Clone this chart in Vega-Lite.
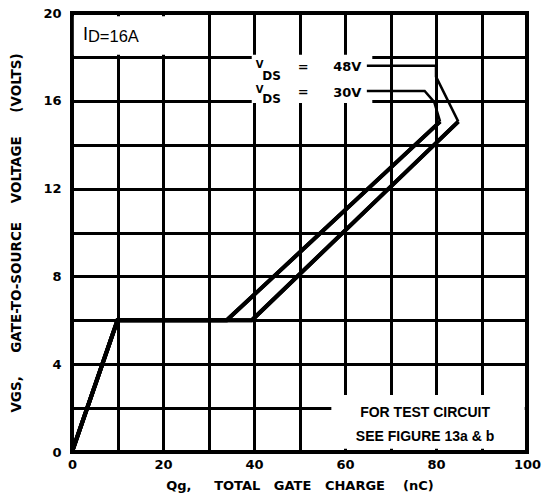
{
  "$schema": "https://vega.github.io/schema/vega-lite/v6.json",
  "width": 455,
  "height": 439,
  "autosize": {"type": "none"},
  "padding": {"left": 72, "top": 13, "right": 30, "bottom": 52},
  "background": "white",
  "config": {
    "view": {"stroke": "black", "strokeWidth": 4},
    "axis": {"zindex": 0}
  },
  "datasets": {
    "curves": [
      {"series": "30V", "ord": 1, "q": 0, "v": 0},
      {"series": "30V", "ord": 2, "q": 10, "v": 6},
      {"series": "30V", "ord": 3, "q": 34, "v": 6},
      {"series": "30V", "ord": 4, "q": 80.9, "v": 15.05},
      {"series": "48V", "ord": 1, "q": 0, "v": 0},
      {"series": "48V", "ord": 2, "q": 10, "v": 6},
      {"series": "48V", "ord": 3, "q": 39.5, "v": 6},
      {"series": "48V", "ord": 4, "q": 84.9, "v": 15.05}
    ],
    "leaders": [
      {"series": "48V", "ord": 1, "q": 64.8, "v": 17.6},
      {"series": "48V", "ord": 2, "q": 80, "v": 17.6},
      {"series": "48V", "ord": 3, "q": 80, "v": 17.1},
      {"series": "48V", "ord": 4, "q": 84.9, "v": 15.05},
      {"series": "30V", "ord": 1, "q": 64.8, "v": 16.45},
      {"series": "30V", "ord": 2, "q": 77.5, "v": 16.45},
      {"series": "30V", "ord": 3, "q": 79.6, "v": 15.95},
      {"series": "30V", "ord": 4, "q": 80.9, "v": 15.05}
    ],
    "masks": [
      {"x": 0.4, "x2": 29.6, "y": 18.1, "y2": 19.85},
      {"x": 39.5, "x2": 66, "y": 15.9, "y2": 18.1},
      {"x": 57, "x2": 99.5, "y": 0.15, "y2": 2.6}
    ],
    "notes": [
      {"role": "big", "q": 2.4, "v": 18.77, "label": "I"},
      {"role": "id", "q": 3.5, "v": 18.68, "label": "D=16A"},
      {"role": "v", "q": 40.4, "v": 17.5, "label": "V"},
      {"role": "sub", "q": 41.8, "v": 16.95, "label": "DS"},
      {"role": "val", "q": 49.6, "v": 17.35, "label": "="},
      {"role": "val", "q": 57.4, "v": 17.36, "label": "48V"},
      {"role": "v", "q": 40.4, "v": 16.36, "label": "V"},
      {"role": "sub", "q": 41.8, "v": 15.92, "label": "DS"},
      {"role": "val", "q": 49.6, "v": 16.2, "label": "="},
      {"role": "val", "q": 57.4, "v": 16.17, "label": "30V"},
      {"role": "test", "q": 77.6, "v": 1.77, "label": "FOR TEST CIRCUIT"},
      {"role": "test", "q": 77.6, "v": 0.68, "label": "SEE FIGURE 13a & b"}
    ]
  },
  "layer": [
    {
      "data": {"name": "curves"},
      "mark": {"type": "line", "color": "black", "strokeWidth": 4, "strokeJoin": "miter"},
      "encoding": {
        "x": {
          "field": "q", "type": "quantitative",
          "scale": {"domain": [0, 100], "nice": false, "zero": false},
          "axis": {
            "values": [0, 10, 20, 30, 40, 50, 60, 70, 80, 90, 100],
            "labelExpr": "datum.value % 20 === 0 ? datum.label : ''",
            "grid": true, "gridColor": "black", "gridWidth": 3, "gridOpacity": 1,
            "domain": false, "ticks": false, "labelFlush": false, "labelOverlap": false,
            "labelPadding": 6, "labelFont": "DejaVu Sans", "labelFontWeight": "bold",
            "labelFontSize": 13, "labelColor": "black",
            "title": "Qg,\u00a0\u00a0\u00a0\u00a0\u00a0TOTAL\u00a0\u00a0\u00a0GATE\u00a0\u00a0\u00a0CHARGE\u00a0\u00a0\u00a0\u00a0(nC)",
            "titleFont": "DejaVu Sans", "titleFontWeight": "bold", "titleFontSize": 13,
            "titleColor": "black", "titlePadding": 8
          }
        },
        "y": {
          "field": "v", "type": "quantitative",
          "scale": {"domain": [0, 20], "nice": false, "zero": false},
          "axis": {
            "values": [0, 2, 4, 6, 8, 10, 12, 14, 16, 18, 20],
            "labelExpr": "datum.value % 4 === 0 ? datum.label : ''",
            "grid": true, "gridColor": "black", "gridWidth": 3, "gridOpacity": 1,
            "domain": false, "ticks": false, "labelFlush": false, "labelOverlap": false,
            "labelPadding": 11, "labelFont": "DejaVu Sans", "labelFontWeight": "bold",
            "labelFontSize": 13, "labelColor": "black",
            "title": "VGS,\u00a0\u00a0\u00a0\u00a0\u00a0GATE-TO-SOURCE\u00a0\u00a0\u00a0\u00a0VOLTAGE\u00a0\u00a0\u00a0\u00a0\u00a0(VOLTS)",
            "titleFont": "DejaVu Sans", "titleFontWeight": "bold", "titleFontSize": 13.5,
            "titleColor": "black", "titlePadding": 19
          }
        },
        "detail": {"field": "series"},
        "order": {"field": "ord"}
      }
    },
    {
      "data": {"name": "masks"},
      "mark": {"type": "rect", "fill": "white", "stroke": null},
      "encoding": {
        "x": {"field": "x", "type": "quantitative"},
        "x2": {"field": "x2"},
        "y": {"field": "y", "type": "quantitative"},
        "y2": {"field": "y2"}
      }
    },
    {
      "data": {"name": "curves"},
      "mark": {"type": "line", "color": "black", "strokeWidth": 4, "strokeJoin": "miter"},
      "encoding": {
        "x": {"field": "q", "type": "quantitative"},
        "y": {"field": "v", "type": "quantitative"},
        "detail": {"field": "series"},
        "order": {"field": "ord"}
      }
    },
    {
      "data": {"name": "leaders"},
      "mark": {"type": "line", "color": "black", "strokeWidth": 2.5},
      "encoding": {
        "x": {"field": "q", "type": "quantitative"},
        "y": {"field": "v", "type": "quantitative"},
        "detail": {"field": "series"},
        "order": {"field": "ord"}
      }
    },
    {
      "data": {"name": "notes"},
      "transform": [{"filter": "datum.role === 'big'"}],
      "mark": {"type": "text", "font": "Liberation Sans", "fontSize": 18, "align": "left", "baseline": "alphabetic", "color": "black"},
      "encoding": {
        "x": {"field": "q", "type": "quantitative"},
        "y": {"field": "v", "type": "quantitative"},
        "text": {"field": "label"}
      }
    },
    {
      "data": {"name": "notes"},
      "transform": [{"filter": "datum.role === 'id'"}],
      "mark": {"type": "text", "font": "Liberation Sans", "fontSize": 16.5, "align": "left", "baseline": "alphabetic", "color": "black"},
      "encoding": {
        "x": {"field": "q", "type": "quantitative"},
        "y": {"field": "v", "type": "quantitative"},
        "text": {"field": "label"}
      }
    },
    {
      "data": {"name": "notes"},
      "transform": [{"filter": "datum.role === 'v'"}],
      "mark": {"type": "text", "font": "DejaVu Sans", "fontWeight": "bold", "fontSize": 10, "align": "left", "baseline": "alphabetic", "color": "black"},
      "encoding": {
        "x": {"field": "q", "type": "quantitative"},
        "y": {"field": "v", "type": "quantitative"},
        "text": {"field": "label"}
      }
    },
    {
      "data": {"name": "notes"},
      "transform": [{"filter": "datum.role === 'sub'"}],
      "mark": {"type": "text", "font": "DejaVu Sans", "fontWeight": "bold", "fontSize": 12, "align": "left", "baseline": "alphabetic", "color": "black"},
      "encoding": {
        "x": {"field": "q", "type": "quantitative"},
        "y": {"field": "v", "type": "quantitative"},
        "text": {"field": "label"}
      }
    },
    {
      "data": {"name": "notes"},
      "transform": [{"filter": "datum.role === 'val'"}],
      "mark": {"type": "text", "font": "DejaVu Sans", "fontWeight": "bold", "fontSize": 13, "align": "left", "baseline": "alphabetic", "color": "black"},
      "encoding": {
        "x": {"field": "q", "type": "quantitative"},
        "y": {"field": "v", "type": "quantitative"},
        "text": {"field": "label"}
      }
    },
    {
      "data": {"name": "notes"},
      "transform": [{"filter": "datum.role === 'test'"}],
      "mark": {"type": "text", "font": "Liberation Sans", "fontWeight": "bold", "fontSize": 14, "align": "center", "baseline": "middle", "color": "black"},
      "encoding": {
        "x": {"field": "q", "type": "quantitative"},
        "y": {"field": "v", "type": "quantitative"},
        "text": {"field": "label"}
      }
    }
  ]
}
